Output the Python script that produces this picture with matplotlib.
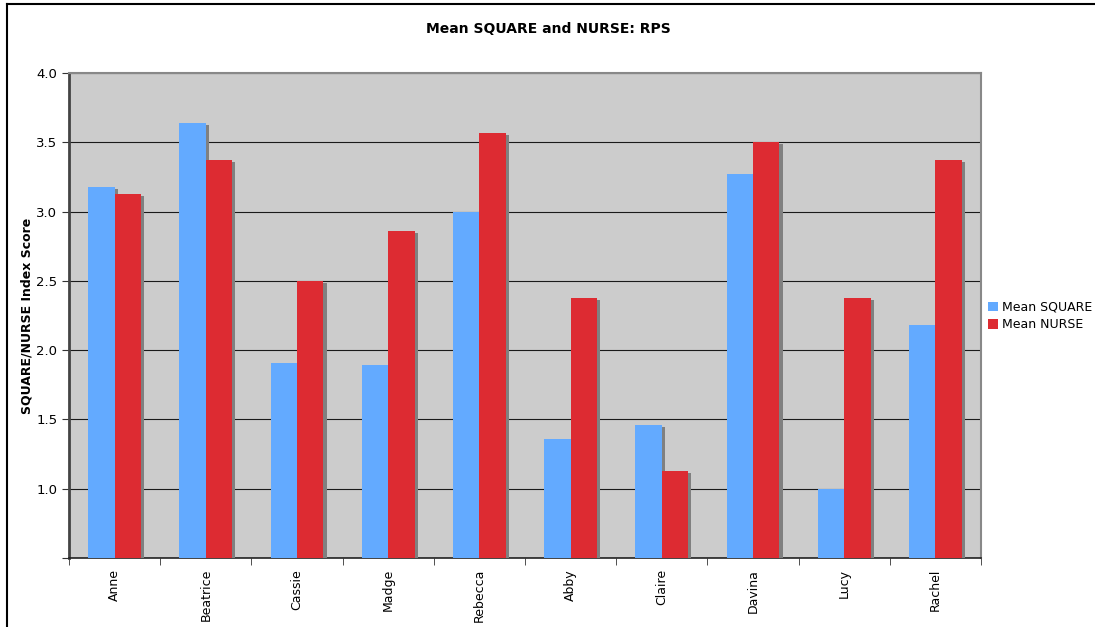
import numpy as np
import matplotlib.pyplot as plt
import matplotlib.patheffects as pe
from matplotlib.lines import Line2D
from matplotlib.patches import Patch

names = ['Anne', 'Beatrice', 'Cassie', 'Madge', 'Rebecca', 'Abby', 'Claire', 'Davina', 'Lucy', 'Rachel']
mean_square = [3.18, 3.64, 1.91, 1.89, 3.00, 1.36, 1.46, 3.27, 1.00, 2.18]
mean_nurse = [3.125, 3.37, 2.50, 2.86, 3.57, 2.375, 1.125, 3.50, 2.375, 3.37]

blue = '#63aaff'
red = '#dd2b32'

fig = plt.figure(figsize=(10.95, 6.27), dpi=100, facecolor='white')
ax = fig.add_axes([69 / 1095, 1 - 558 / 627, 912 / 1095, 485 / 627])
ax.set_facecolor('#cccccc')

x = np.arange(len(names))
w = 0.29
shadow = [pe.SimplePatchShadow(offset=(2.2, -1.4), shadow_rgbFace='#808080', alpha=1.0), pe.Normal()]
b1 = ax.bar(x - w / 2, mean_square, w, bottom=0, color=blue, zorder=3)
b2 = ax.bar(x + w / 2, mean_nurse, w, bottom=0, color=red, zorder=3)
for bar in list(b1) + list(b2):
    bar.set_path_effects(shadow)

ax.set_ylim(0.5, 4.0)
ax.set_xlim(-0.5, len(names) - 0.5)
ax.set_yticks(np.arange(0.5, 4.01, 0.5))
ax.set_yticklabels([''] + ['%.1f' % v for v in np.arange(1.0, 4.01, 0.5)])
ax.yaxis.grid(True, color='#1a1a1a', linewidth=0.8, zorder=1)
ax.set_axisbelow(True)

ax.set_xticks(x)
ax.set_xticklabels(names, rotation=90, fontsize=9)
ax.set_xticks(np.arange(-0.5, len(names)), minor=True)
ax.tick_params(axis='x', which='major', length=0, pad=8)
ax.tick_params(axis='x', which='minor', length=5, direction='out', color='#333333')
ax.tick_params(axis='y', length=5, direction='out', labelsize=9.5, color='#333333')

ax.spines['left'].set_color('#444444')
ax.spines['left'].set_linewidth(2)
ax.spines['bottom'].set_color('#222222')
ax.spines['bottom'].set_linewidth(1.2)
ax.spines['top'].set_color('#888888')
ax.spines['top'].set_linewidth(1.5)
ax.spines['right'].set_color('#888888')
ax.spines['right'].set_linewidth(1.5)

ax.set_ylabel('SQUARE/NURSE Index Score', fontsize=9, fontweight='bold', labelpad=2)
fig.text(548 / 1095, 1 - 29 / 627, 'Mean SQUARE and NURSE: RPS', ha='center', va='center',
         fontsize=10, fontweight='bold')

handles = [Patch(facecolor=blue), Patch(facecolor=red)]
fig.legend(handles=handles, labels=['Mean SQUARE', 'Mean NURSE'], loc='center left',
           bbox_to_anchor=(988 / 1095, 1 - 316 / 627), frameon=False, fontsize=9,
           handlelength=0.8, handleheight=0.8, handletextpad=0.35, labelspacing=0.35,
           borderpad=0, borderaxespad=0)

# chart area border (top and left edges)
fig.add_artist(Line2D([7 / 1095, 1.0], [1 - 4 / 627, 1 - 4 / 627], color='black', linewidth=1.5))
fig.add_artist(Line2D([7 / 1095, 7 / 1095], [0.0, 1 - 4 / 627], color='black', linewidth=1.5))

fig.savefig('out.png', dpi=100)
